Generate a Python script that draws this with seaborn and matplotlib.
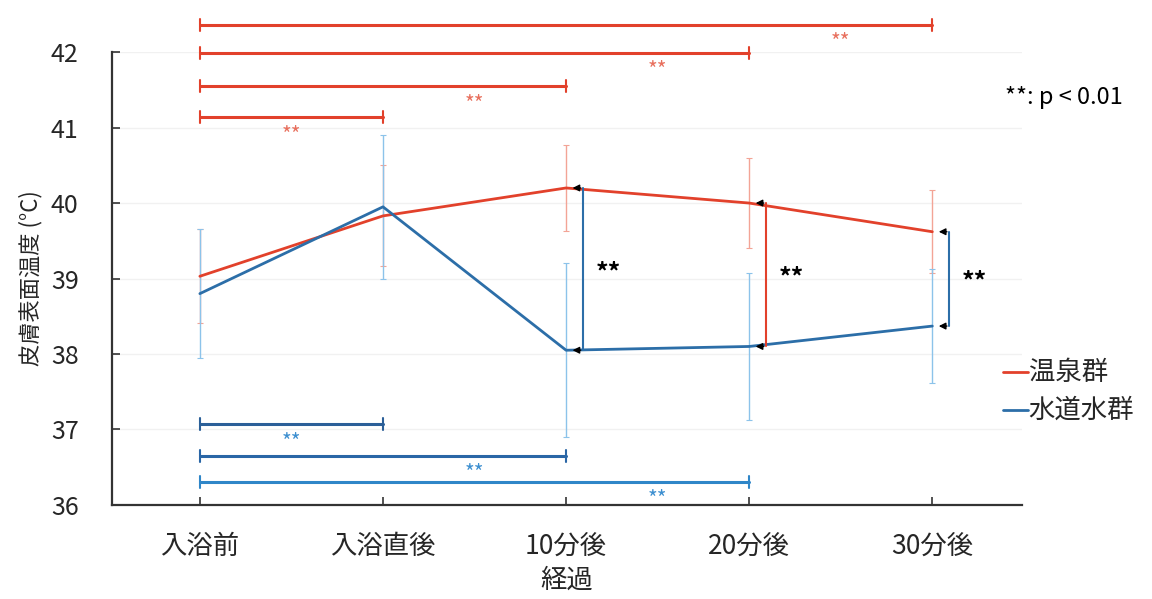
import numpy as np
import pandas as pd
import seaborn as sns
import matplotlib.pyplot as plt

# データ
categories = ["入浴前", "入浴直後", "10分後", "20分後", "30分後"]
groups = ["温泉群", "水道水群"]
onsen_mean = [39.03, 39.83, 40.20, 40.00, 39.62]
onsen_sd = [0.62, 0.67, 0.57, 0.60, 0.55]
tap_mean = [38.80, 39.95, 38.05, 38.10, 38.37]
tap_sd = [0.85, 0.95, 1.15, 0.97, 0.75]

# 群内比較(入浴前との比較)
onsen_sig_to = [1, 2, 3, 4]
onsen_sig_y = [41.14, 41.55, 41.99, 42.36]
tap_sig_to = [1, 2, 3]
tap_sig_y = [37.07, 36.65, 36.31]
# 群間比較
between_idx = [2, 3, 4]

red = "#e2412b"
blue = "#2c6ea8"
colors = {"温泉群": red, "水道水群": blue}

sns.set_theme(style="white")
plt.rcParams["font.family"] = ["Noto Sans CJK JP", "DejaVu Sans"]

df = pd.DataFrame({
    "経過": categories * 2,
    "温度": onsen_mean + tap_mean,
    "群": [groups[0]] * 5 + [groups[1]] * 5,
})

fig = plt.figure(figsize=(11.52, 5.99), dpi=100)
ax = fig.add_axes([0.0972, 0.157, 0.79, 0.756])

# エラーバー
xs = np.arange(len(categories))
ax.errorbar(xs, onsen_mean, yerr=onsen_sd, fmt="none", ecolor="#f3a496",
            elinewidth=1, capsize=2.5, capthick=0.8, zorder=1)
ax.errorbar(xs, tap_mean, yerr=tap_sd, fmt="none", ecolor="#8cc3ea",
            elinewidth=1, capsize=2.5, capthick=0.8, zorder=1)

sns.lineplot(data=df, x="経過", y="温度", hue="群", palette=colors,
             sort=False, linewidth=2, ax=ax, legend=False, zorder=3)

ax.set_ylim(36, 42)
ax.set_xlim(-0.48, 4.49)
ax.set_yticks([36, 37, 38, 39, 40, 41, 42])
ax.grid(axis="y", color="#f1f1f1", linewidth=1)
ax.tick_params(axis="both", direction="in", length=6, width=1.2, color="#333333",
               left=True, bottom=True)
ax.tick_params(axis="y", pad=24, labelsize=18)
ax.tick_params(axis="x", pad=20, labelsize=19)
for s in ["top", "right"]:
    ax.spines[s].set_visible(False)
for s in ["left", "bottom"]:
    ax.spines[s].set_color("#333333")
    ax.spines[s].set_linewidth(1.6)
ax.set_xlabel("経過", fontsize=19, labelpad=5)
ax.set_ylabel("皮膚表面温度 (°C)", fontsize=16, labelpad=6)

# 有意差ブラケット(温泉群、上)
for to, y in zip(onsen_sig_to, onsen_sig_y):
    ax.plot([0, to], [y, y], color=red, lw=2.2, clip_on=False, zorder=4)
    for xe in (0, to):
        ax.plot([xe, xe], [y - 0.08, y + 0.08], color=red, lw=1.5, clip_on=False)
    ax.text(to - 0.5, y - 0.1, "**", color="#e8705e", fontsize=15,
            ha="center", va="top", clip_on=False)

# 有意差ブラケット(水道水群、下)
tap_cols = ["#2b5f98", "#2a66a6", "#2f86c8"]
for to, y, c in zip(tap_sig_to, tap_sig_y, tap_cols):
    ax.plot([0, to], [y, y], color=c, lw=2.2, zorder=4)
    for xe in (0, to):
        ax.plot([xe, xe], [y - 0.08, y + 0.08], color=c, lw=1.5)
    ax.text(to - 0.5, y - 0.1, "**", color="#3d8fd0", fontsize=15,
            ha="center", va="top")

# 群間比較
between_cols = {2: blue, 3: red, 4: blue}
for i in between_idx:
    xv = i + 0.09
    y1, y2 = onsen_mean[i], tap_mean[i]
    ax.plot([xv, xv], [y1, y2], color=between_cols[i], lw=1.5, zorder=5)
    for yy in (y1, y2):
        ax.annotate("", xy=(i + 0.02, yy), xytext=(xv + 0.005, yy),
                    arrowprops=dict(arrowstyle="-|>", color="black", lw=1,
                                    mutation_scale=10), zorder=6)
    ax.text(xv + 0.07, (y1 + y2) / 2 + 0.12, "**", color="black", fontsize=18,
            ha="left", va="top", fontweight="bold")

# 凡例と注記
fig.text(0.872, 0.838, "**: p < 0.01", fontsize=17, ha="left", va="center",
         color="black")
for j, g in enumerate(groups):
    yf = 1 - (372 + 38 * j) / 599
    fig.add_artist(plt.Line2D([0.871, 0.892], [yf, yf], color=colors[g], lw=2))
    fig.text(0.893, yf, g, fontsize=19, ha="left", va="center")

fig.savefig("out.png", dpi=100)
